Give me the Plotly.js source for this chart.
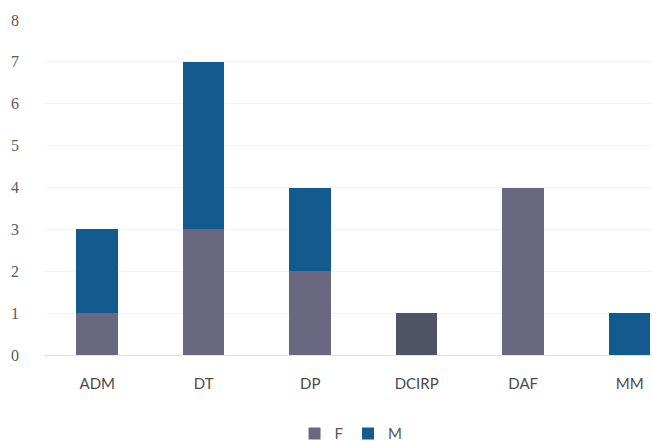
<!DOCTYPE html>
<html>
<head>
<meta charset="utf-8">
<script src="https://cdn.plot.ly/plotly-3.0.1.min.js"></script>
<style>
  html, body { margin: 0; padding: 0; background: #ffffff; overflow: hidden; }
  #chart { width: 652px; height: 441px; }
</style>
</head>
<body>
<div id="chart"></div>
<script>
// Staff count per department, split by sex
const departments = ['ADM', 'DT', 'DP', 'DCIRP', 'DAF', 'MM'];
const femaleCounts = [1, 3, 2, 1, 4, 0];
const maleCounts = [2, 4, 2, 0, 0, 1];
const yTicks = [0, 1, 2, 3, 4, 5, 6, 7, 8];

const femaleColor = '#6a6880';
const femaleColorAlt = '#4f5365';
const maleColor = '#135b8f';

// DCIRP's single bar is printed in a deeper slate tone
const femaleBarColors = departments.map(d => d === 'DCIRP' ? femaleColorAlt : femaleColor);

const traces = [
  {
    type: 'bar',
    name: 'F',
    x: departments,
    y: femaleCounts,
    marker: { color: femaleBarColors, line: { width: 0 } },
    hoverinfo: 'x+y+name'
  },
  {
    type: 'bar',
    name: 'M',
    x: departments,
    y: maleCounts,
    marker: { color: maleColor, line: { width: 0 } },
    hoverinfo: 'x+y+name'
  }
];

const layout = {
  width: 652,
  height: 441,
  margin: { l: 44, r: 0, t: 20, b: 86, pad: 0, autoexpand: false },
  paper_bgcolor: '#ffffff',
  plot_bgcolor: '#ffffff',
  barmode: 'stack',
  bargap: 0.61,
  showlegend: true,
  legend: {
    orientation: 'h',
    traceorder: 'normal',
    x: 0.505,
    xanchor: 'center',
    y: -0.235,
    yanchor: 'middle',
    font: { family: 'Lato, "Open Sans", sans-serif', size: 15, color: '#555555' },
    itemwidth: 30,
    tracegroupgap: 0
  },
  xaxis: {
    type: 'category',
    range: [-0.5, 5.21],
    showgrid: false,
    zeroline: false,
    showline: false,
    ticks: '',
    ticklabelstandoff: 18,
    tickfont: { family: 'Lato, "Open Sans", sans-serif', size: 15, color: '#4a4a4a' }
  },
  yaxis: {
    range: [0, 8],
    tickvals: yTicks,
    ticktext: yTicks.map(String),
    showgrid: true,
    gridcolor: '#f3f3f3',
    gridwidth: 1,
    zeroline: true,
    zerolinecolor: '#f1dede',
    zerolinewidth: 1,
    showline: false,
    ticks: '',
    ticklabelstandoff: 24,
    tickfont: { family: '"Liberation Serif", "DejaVu Serif", serif', size: 16, color: '#5a5a5a' }
  },
  font: { family: 'Lato, "Open Sans", sans-serif', color: '#555555' }
};

Plotly.newPlot('chart', traces, layout, { displayModeBar: false, staticPlot: true });
</script>
</body>
</html>
